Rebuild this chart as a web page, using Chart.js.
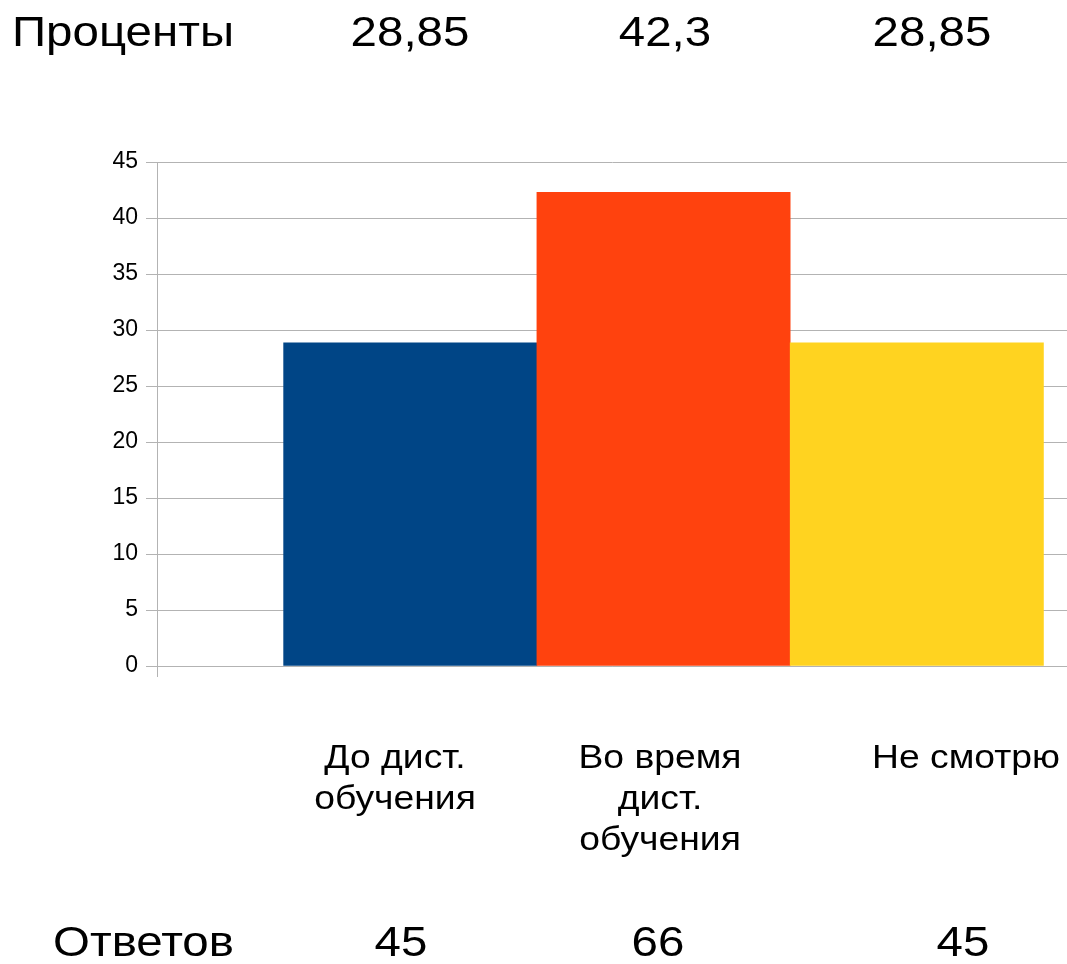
<!DOCTYPE html>
<html>
<head>
<meta charset="utf-8">
<script src="https://cdn.jsdelivr.net/npm/chart.js@4/dist/chart.umd.min.js"></script>
<style>
  html, body { margin: 0; padding: 0; background: #fff; }
  #wrap { position: relative; width: 1067px; height: 964px; overflow: hidden; font-family: "Liberation Sans", Arial, sans-serif; color: #000; }
  #c { position: absolute; left: 0; top: 0; }
  .t { position: absolute; white-space: nowrap; line-height: 1; }
  .big { font-size: 42px; }
  .lft { transform-origin: 0 0; transform: scaleX(1.13); }
  .ctr { text-align: center; transform: translateX(-50%) scaleX(1.13); }
  .cat { position: absolute; font-size: 33px; line-height: 41px; text-align: center; transform: translateX(-50%) scaleX(1.13); white-space: nowrap; }
</style>
</head>
<body>
<div id="wrap">
  <canvas id="c" width="1067" height="964"></canvas>
</div>
<script>
// ---- data ----
const categories = [["До дист.", "обучения"], ["Во время", "дист.", "обучения"], ["Не смотрю"]];
const percents = [28.85, 42.3, 28.85];
const percentLabels = ["28,85", "42,3", "28,85"];
const answers = [45, 66, 45];
const rowTitles = ["Проценты", "Ответов"];
const yMin = 0, yMax = 45, yStep = 5;
const barColors = ["#004586", "#ff420e", "#ffd320"];

// ---- text rows (HTML) ----
const wrap = document.getElementById('wrap');
function addText(txt, cls, left, top) {
  const d = document.createElement('div');
  d.className = cls;
  d.textContent = txt;
  d.style.left = left + 'px';
  d.style.top = top + 'px';
  wrap.appendChild(d);
  return d;
}
addText(rowTitles[0], 't big lft', 12, 11);
const topCenters = [410, 665, 932];
percentLabels.forEach((s, i) => addText(s, 't big ctr', topCenters[i], 11));
addText(rowTitles[1], 't big lft', 53, 921);
const botCenters = [401, 658, 963];
answers.forEach((v, i) => addText(String(v), 't big ctr', botCenters[i], 921));
const catCenters = [395, 660, 966];
categories.forEach((lines, i) => {
  const d = document.createElement('div');
  d.className = 'cat';
  d.style.left = catCenters[i] + 'px';
  d.style.top = '736px';
  d.innerHTML = lines.map(l => l.replace(/&/g,'&amp;').replace(/</g,'&lt;')).join('<br>');
  wrap.appendChild(d);
});

// ---- chart ----
const gridColor = '#b3b3b3';
new Chart(document.getElementById('c'), {
  type: 'bar',
  data: {
    datasets: [{
      data: percents.map((v, i) => ({ x: i + 1, y: v })),
      backgroundColor: barColors,
      borderWidth: 0,
      barPercentage: 1,
      categoryPercentage: 1
    }]
  },
  options: {
    responsive: false,
    animation: false,
    events: [],
    layout: { padding: { top: 162, bottom: 287, left: 0, right: 0 } },
    plugins: { legend: { display: false }, tooltip: { enabled: false } },
    scales: {
      x: {
        type: 'linear',
        offset: false,
        min: 0,
        max: 3.593,
        afterBuildTicks: s => { s.ticks = [{ value: 0 }]; },
        afterFit: s => { s.height = 11; },
        ticks: { display: false },
        grid: { offset: false, drawOnChartArea: false, drawTicks: true, tickLength: 11, color: gridColor, lineWidth: 1 },
        border: { display: true, color: gridColor, width: 1 }
      },
      y: {
        min: yMin,
        max: yMax,
        afterFit: s => { s.width = 157; },
        ticks: {
          stepSize: yStep,
          padding: 8,
          color: '#000',
          font: { family: '"Liberation Sans", Arial, sans-serif', size: 23 }
        },
        grid: { color: gridColor, lineWidth: 1, tickLength: 11, drawTicks: true },
        border: { display: true, color: gridColor, width: 1 }
      }
    }
  }
});
</script>
</body>
</html>
